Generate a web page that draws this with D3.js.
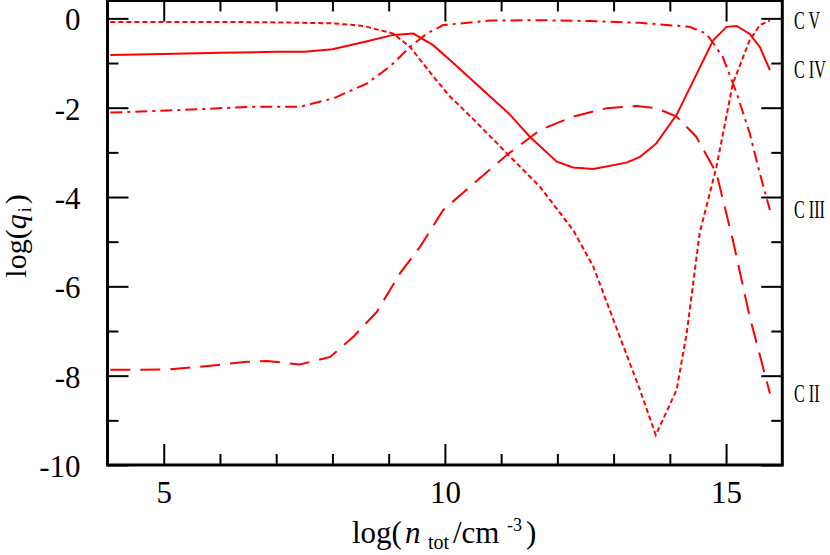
<!DOCTYPE html>
<html>
<head>
<meta charset="utf-8">
<title>log q_i vs log n_tot</title>
<style>
  body { margin: 0; background: #fff; }
  svg, svg text { font-family: "Liberation Serif", "Times New Roman", "DejaVu Serif", serif; }
  .series { fill: none; stroke: #ff0000; stroke-width: 2; }
  .tick line { stroke: #000; stroke-width: 2; }
</style>
</head>
<body>
<svg width="830" height="555"></svg>
<script src="https://cdnjs.cloudflare.com/ajax/libs/d3/7.8.5/d3.min.js"></script>
<script>
// values
var cvX   = [4.05, 5, 6, 7, 8, 8.55, 9.08, 9.38, 9.8, 10.09, 10.5, 11.1, 11.69, 12.28, 12.64, 13.11, 13.47, 13.75, 14.12, 14.3, 14.53, 14.83, 15.12, 15.42, 15.6, 15.78];
var cvY   = [-0.08, -0.08, -0.08, -0.09, -0.11, -0.17, -0.34, -0.64, -1.31, -1.75, -2.25, -3.02, -3.77, -4.74, -5.56, -7.13, -8.32, -9.33, -8.32, -7.05, -4.81, -3.32, -1.46, -0.49, -0.15, -0.05];

var civX  = [4.05, 5, 6, 7, 7.5, 8, 8.6, 9.08, 9.44, 9.79, 10.09, 10.5, 11.16, 11.51, 11.99, 12.28, 12.64, 13.23, 13.47, 13.76, 14.12, 14.77, 15.01, 15.19, 15.42, 15.6, 15.78];
var civY  = [-0.82, -0.8, -0.77, -0.75, -0.75, -0.69, -0.52, -0.37, -0.34, -0.6, -0.93, -1.4, -2.16, -2.65, -3.21, -3.34, -3.37, -3.23, -3.1, -2.8, -2.16, -0.49, -0.19, -0.17, -0.35, -0.64, -1.16];

var ciiiX = [4.05, 5.35, 6.54, 7.42, 8.02, 8.61, 9.02, 9.38, 9.68, 9.97, 10.8, 11.69, 12.57, 13.47, 14.35, 14.65, 14.94, 15.19, 15.42, 15.6, 15.78];
var ciiiY = [-2.11, -2.05, -1.98, -1.98, -1.79, -1.46, -1.08, -0.64, -0.34, -0.15, -0.05, -0.04, -0.06, -0.1, -0.19, -0.34, -0.86, -1.68, -2.57, -3.47, -4.29];

var ciiX  = [4.05, 5.06, 5.65, 6.48, 6.83, 7.42, 7.96, 8.37, 8.79, 9.2, 9.56, 9.97, 10.62, 11.1, 11.69, 12.28, 12.88, 13.41, 13.76, 14.12, 14.47, 14.83, 15.12, 15.42, 15.78];
var ciiY  = [-7.87, -7.86, -7.8, -7.69, -7.67, -7.75, -7.58, -7.13, -6.57, -5.71, -5.11, -4.29, -3.58, -3.06, -2.5, -2.2, -2.01, -1.96, -2.01, -2.2, -2.65, -3.47, -4.96, -6.68, -8.4];

var ionLabels = ["C V", "C IV", "C III", "C II"];
var xMajor = [5, 10, 15];
var xMinor = [6, 7, 8, 9, 11, 12, 13, 14];
var yMajor = [0, -2, -4, -6, -8, -10];
var yMinor = [-1, -3, -5, -7, -9];

var serif = "'Liberation Serif', 'Times New Roman', 'DejaVu Serif', serif";

var svg = d3.select("svg");

var x = d3.scaleLinear().domain([4, 16]).range([107.5, 782.3]);
var y = d3.scaleLinear().domain([-10, 0.4]).range([465, 0.5]);

var series = [
  { name: ionLabels[0], xs: cvX,   ys: cvY,   dash: "5,3" },
  { name: ionLabels[1], xs: civX,  ys: civY,  dash: null },
  { name: ionLabels[2], xs: ciiiX, ys: ciiiY, dash: "12,5,3,5" },
  { name: ionLabels[3], xs: ciiX,  ys: ciiY,  dash: "20,10" }
];

var line = d3.line()
  .x(function(d) { return x(d[0]); })
  .y(function(d) { return y(d[1]); });

svg.selectAll(".series")
  .data(series)
  .enter()
  .append("path")
  .attr("class", "series")
  .attr("stroke-dasharray", function(d) { return d.dash; })
  .attr("d", function(d) { return line(d3.zip(d.xs, d.ys)); });

// axes: ticks point inward on all four sides
function addAxis(axis, tx, ty) {
  var g = svg.append("g").attr("transform", "translate(" + tx + "," + ty + ")").call(axis);
  g.attr("font-family", serif);
  g.select(".domain").remove();
  return g;
}
var plain = function(d) { return String(d); };

var bottom = addAxis(d3.axisBottom(x).tickValues(xMajor).tickSize(-21).tickPadding(16).tickFormat(plain), 0, y(-10));
bottom.selectAll("text").style("font-size", "31px");
addAxis(d3.axisBottom(x).tickValues(xMinor).tickSize(-11).tickFormat(""), 0, y(-10));
addAxis(d3.axisTop(x).tickValues(xMajor).tickSize(-21).tickFormat(""), 0, y(0.4));
addAxis(d3.axisTop(x).tickValues(xMinor).tickSize(-11).tickFormat(""), 0, y(0.4));

var left = addAxis(d3.axisLeft(y).tickValues(yMajor).tickSize(-21).tickPadding(27).tickFormat(plain), x(4), 0);
left.selectAll("text").style("font-size", "31px").attr("dy", "0.37em");
addAxis(d3.axisLeft(y).tickValues(yMinor).tickSize(-11).tickFormat(""), x(4), 0);
addAxis(d3.axisRight(y).tickValues(yMajor).tickSize(-21).tickFormat(""), x(16), 0);
addAxis(d3.axisRight(y).tickValues(yMinor).tickSize(-11).tickFormat(""), x(16), 0);

svg.selectAll(".tick text").attr("fill", "#000").style("font-family", serif);

// thick frame
svg.append("rect")
  .attr("x", x(4)).attr("y", y(0.4))
  .attr("width", x(16) - x(4)).attr("height", y(-10) - y(0.4))
  .attr("fill", "none").attr("stroke", "#000").attr("stroke-width", 3);

// ion labels at the right end of each curve (narrow lettering)
svg.selectAll(".ion")
  .data(series)
  .enter()
  .append("text")
  .attr("class", "ion")
  .attr("transform", function(d) {
    return "translate(794," + (y(d.ys[d.ys.length - 1]) + 8) + ") scale(0.62,1)";
  })
  .style("font-family", serif)
  .style("font-size", "26px")
  .text(function(d) { return d.name; });

// axis titles
var xt = svg.append("text").attr("y", 543).style("font-family", serif).style("font-size", "31px");
xt.append("tspan").attr("x", 352).text("log(");
xt.append("tspan").attr("x", 405).style("font-style", "italic").text("n");
xt.append("tspan").attr("x", 428).style("font-size", "20px").attr("dy", 6).text("tot");
xt.append("tspan").attr("x", 453).attr("dy", -6).text("/cm");
xt.append("tspan").attr("x", 507).style("font-size", "18px").attr("dy", -12).text("-3");
xt.append("tspan").attr("x", 526).attr("dy", 12).text(")");

var yt = svg.append("text").attr("transform", "translate(26,236) rotate(-90)").attr("text-anchor", "middle")
  .style("font-family", serif).style("font-size", "30px");
yt.append("tspan").text("log(");
yt.append("tspan").style("font-style", "italic").text("q");
yt.append("tspan").style("font-size", "18px").attr("dx", 2).attr("dy", 5).text("i");
yt.append("tspan").attr("dx", 3).attr("dy", -5).text(")");
</script>
</body>
</html>
